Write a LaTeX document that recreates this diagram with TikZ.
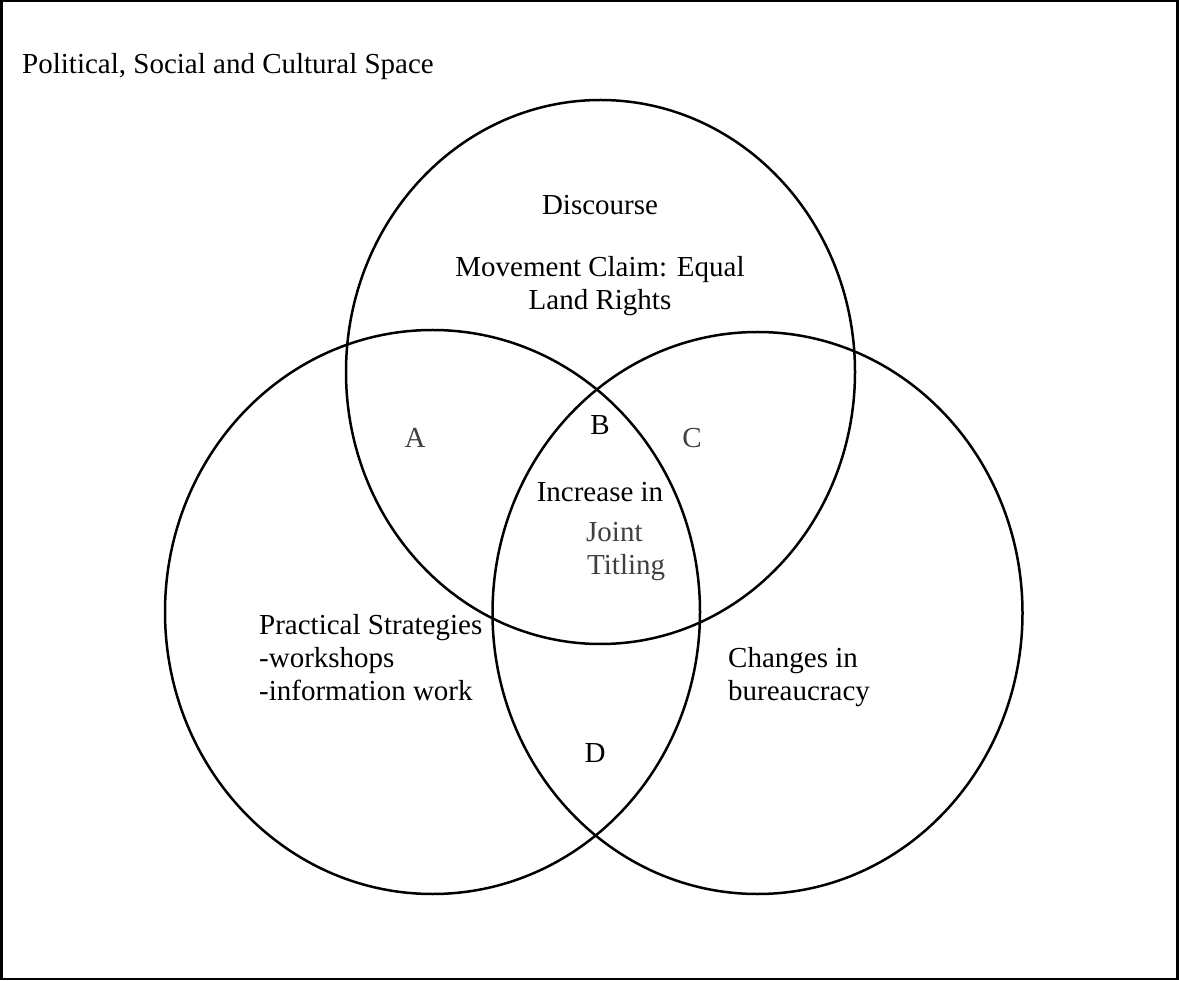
\documentclass[tikz,border=0pt]{standalone}
\usepackage{fontspec}
\setmainfont{Liberation Serif}
\definecolor{lblgray}{HTML}{404040}
\begin{document}
\begin{tikzpicture}[x=1pt,y=-1pt,
  lbl/.style={font=\fontsize{29}{33}\selectfont, inner sep=0pt, text=black},
  glbl/.style={lbl, text=lblgray},
  setline/.style={draw=black, line width=2.5pt},
  frame/.style={draw=black, line width=2.4pt}]
\useasboundingbox (0,0) rectangle (1179,981);
\draw[frame] (1.3,1.2) rectangle (1177.5,979);
% sets
\draw[setline] (600.5,372) ellipse [x radius=254.5pt, y radius=272pt];
\draw[setline] (432.5,612) ellipse [x radius=267.5pt, y radius=282pt];
\draw[setline] (757.5,613) ellipse [x radius=265pt, y radius=281pt];
% texts
\node[lbl, anchor=base west] (title) at (22,74) {Political, Social and Cultural Space};
\node[lbl, anchor=base] (disc) at (600,215) {Discourse};
\node[lbl, anchor=base] (claim1) at (600,277) {Movement Claim: Equal};
\node[lbl, anchor=base] (claim2) at (600,310) {Land Rights};
\node[glbl, anchor=base] (lA) at (415,448) {A};
\node[lbl, anchor=base] (lB) at (600,435) {B};
\node[glbl, anchor=base] (lC) at (692,448) {C};
\node[lbl, anchor=base] (lD) at (595,762) {D};
\node[lbl, anchor=base] (inc1) at (600,502) {Increase in};
\node[glbl, anchor=base west] (inc2) at (586,542) {Joint};
\node[glbl, anchor=base west] (inc3) at (587,575) {Titling};
\node[lbl, anchor=base west] (prac1) at (259,634) {Practical Strategies};
\node[lbl, anchor=base west] (prac2) at (259,667) {-workshops};
\node[lbl, anchor=base west] (prac3) at (259,700) {-information work};
\node[lbl, anchor=base west] (chg1) at (728,667) {Changes in};
\node[lbl, anchor=base west] (chg2) at (728,700) {bureaucracy};
\end{tikzpicture}
\end{document}
